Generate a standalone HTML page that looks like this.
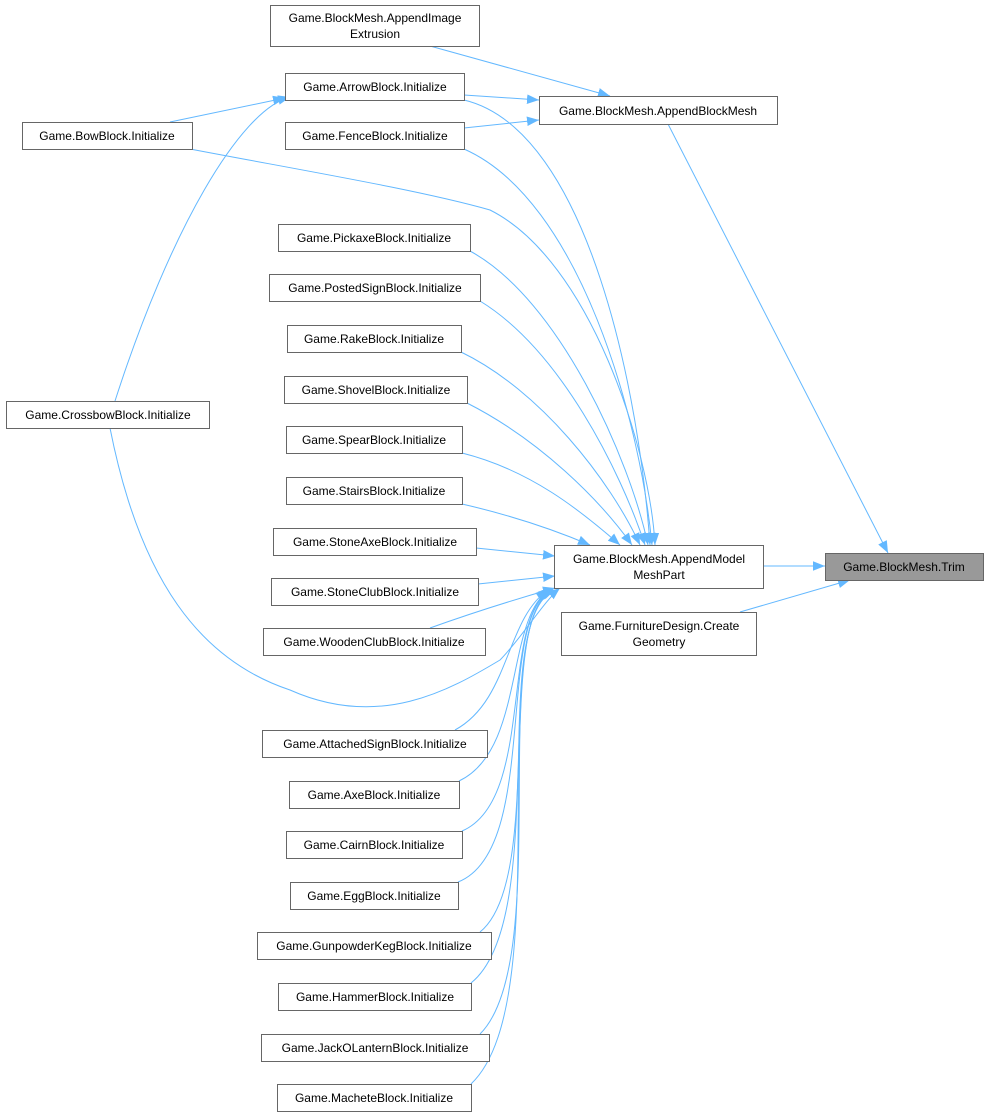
<!DOCTYPE html>
<html><head><meta charset="utf-8"><style>
html,body{margin:0;padding:0;background:#fff;}
svg{display:block;}
text{font-family:"Liberation Sans",Arial,sans-serif;font-size:12px;fill:#000;}
</style></head><body>
<svg width="987" height="1117" viewBox="0 0 987 1117" xmlns="http://www.w3.org/2000/svg">
<defs>
<marker id="a" viewBox="0 0 10 10" refX="10" refY="5" markerWidth="12" markerHeight="12" markerUnits="userSpaceOnUse" orient="auto">
<path d="M0,1 L10,5 L0,9 z" fill="#63b8ff"/>
</marker>
</defs>
<g fill="none" stroke="#63b8ff" stroke-width="1" marker-end="url(#a)">
<path d="M668,124 L888,553"/>
<path d="M763,566 L825,566"/>
<path d="M740,612 L850,580"/>
<path d="M430,46 L610,96"/>
<path d="M464,95 L539,100"/>
<path d="M464,128 L539,120"/>
<path d="M170,122 L285,98"/>
<path d="M115,401 C170,230 240,110 290,97"/>
<path d="M464,100 C590,130 640,400 650,545"/>
<path d="M464,149 C580,200 640,420 652,545"/>
<path d="M190,149 C300,170 420,190 490,210 C590,260 650,450 655,545"/>
<path d="M470,251 C560,300 630,460 648,545"/>
<path d="M480,301 C560,350 620,470 645,545"/>
<path d="M461,352 C540,390 610,480 640,545"/>
<path d="M467,403 C540,440 600,500 632,545"/>
<path d="M462,453 C530,470 580,510 620,545"/>
<path d="M462,504 C510,515 550,528 590,545"/>
<path d="M476,548 L555,556"/>
<path d="M478,584 L555,576"/>
<path d="M430,628 C480,610 520,598 555,588"/>
<path d="M110,428 C140,580 200,660 290,690 C380,730 450,690 500,660 C520,640 545,600 560,588"/>
<path d="M455,730 C510,700 505,620 548,590"/>
<path d="M459,781 C525,750 505,620 549,590"/>
<path d="M462,831 C535,800 500,620 550,590"/>
<path d="M458,882 C540,850 495,620 551,590"/>
<path d="M480,932 C545,880 495,620 552,590"/>
<path d="M471,983 C550,920 490,620 553,590"/>
<path d="M480,1034 C555,960 485,620 554,590"/>
<path d="M471,1084 C560,1000 480,620 555,590"/>
</g>
<g stroke="#666" stroke-width="1" fill="#fff">
<rect x="825.5" y="553.5" width="158" height="27" fill="#999"/>
<rect x="539.5" y="96.5" width="238" height="28"/>
<rect x="554.5" y="545.5" width="209" height="43"/>
<rect x="561.5" y="612.5" width="195" height="43"/>
<rect x="270.5" y="5.5" width="209" height="41"/>
<rect x="285.5" y="73.5" width="179" height="27"/>
<rect x="285.5" y="122.5" width="179" height="27"/>
<rect x="22.5" y="122.5" width="170" height="27"/>
<rect x="6.5" y="401.5" width="203" height="27"/>
<rect x="278.5" y="224.5" width="192" height="27"/>
<rect x="269.5" y="274.5" width="211" height="27"/>
<rect x="287.5" y="325.5" width="174" height="27"/>
<rect x="284.5" y="376.5" width="183" height="27"/>
<rect x="286.5" y="426.5" width="176" height="27"/>
<rect x="286.5" y="477.5" width="176" height="27"/>
<rect x="273.5" y="528.5" width="203" height="27"/>
<rect x="271.5" y="578.5" width="207" height="27"/>
<rect x="263.5" y="628.5" width="222" height="27"/>
<rect x="262.5" y="730.5" width="225" height="27"/>
<rect x="289.5" y="781.5" width="170" height="27"/>
<rect x="286.5" y="831.5" width="176" height="27"/>
<rect x="290.5" y="882.5" width="168" height="27"/>
<rect x="257.5" y="932.5" width="234" height="27"/>
<rect x="278.5" y="983.5" width="193" height="27"/>
<rect x="261.5" y="1034.5" width="228" height="27"/>
<rect x="277.5" y="1084.5" width="194" height="27"/>
</g>
<g text-anchor="middle">
<text x="904" y="571">Game.BlockMesh.Trim</text>
<text x="658" y="115">Game.BlockMesh.AppendBlockMesh</text>
<text x="659" y="563">Game.BlockMesh.AppendModel</text>
<text x="659" y="579">MeshPart</text>
<text x="659" y="630">Game.FurnitureDesign.Create</text>
<text x="659" y="646">Geometry</text>
<text x="375" y="22">Game.BlockMesh.AppendImage</text>
<text x="375" y="38">Extrusion</text>
<text x="375" y="91">Game.ArrowBlock.Initialize</text>
<text x="375" y="140">Game.FenceBlock.Initialize</text>
<text x="107" y="140">Game.BowBlock.Initialize</text>
<text x="108" y="419">Game.CrossbowBlock.Initialize</text>
<text x="374" y="242">Game.PickaxeBlock.Initialize</text>
<text x="375" y="292">Game.PostedSignBlock.Initialize</text>
<text x="374" y="343">Game.RakeBlock.Initialize</text>
<text x="376" y="394">Game.ShovelBlock.Initialize</text>
<text x="374" y="444">Game.SpearBlock.Initialize</text>
<text x="374" y="495">Game.StairsBlock.Initialize</text>
<text x="375" y="546">Game.StoneAxeBlock.Initialize</text>
<text x="375" y="596">Game.StoneClubBlock.Initialize</text>
<text x="374" y="646">Game.WoodenClubBlock.Initialize</text>
<text x="375" y="748">Game.AttachedSignBlock.Initialize</text>
<text x="374" y="799">Game.AxeBlock.Initialize</text>
<text x="374" y="849">Game.CairnBlock.Initialize</text>
<text x="374" y="900">Game.EggBlock.Initialize</text>
<text x="374" y="950">Game.GunpowderKegBlock.Initialize</text>
<text x="375" y="1001">Game.HammerBlock.Initialize</text>
<text x="375" y="1052">Game.JackOLanternBlock.Initialize</text>
<text x="374" y="1102">Game.MacheteBlock.Initialize</text>
</g>
</svg>
</body></html>
